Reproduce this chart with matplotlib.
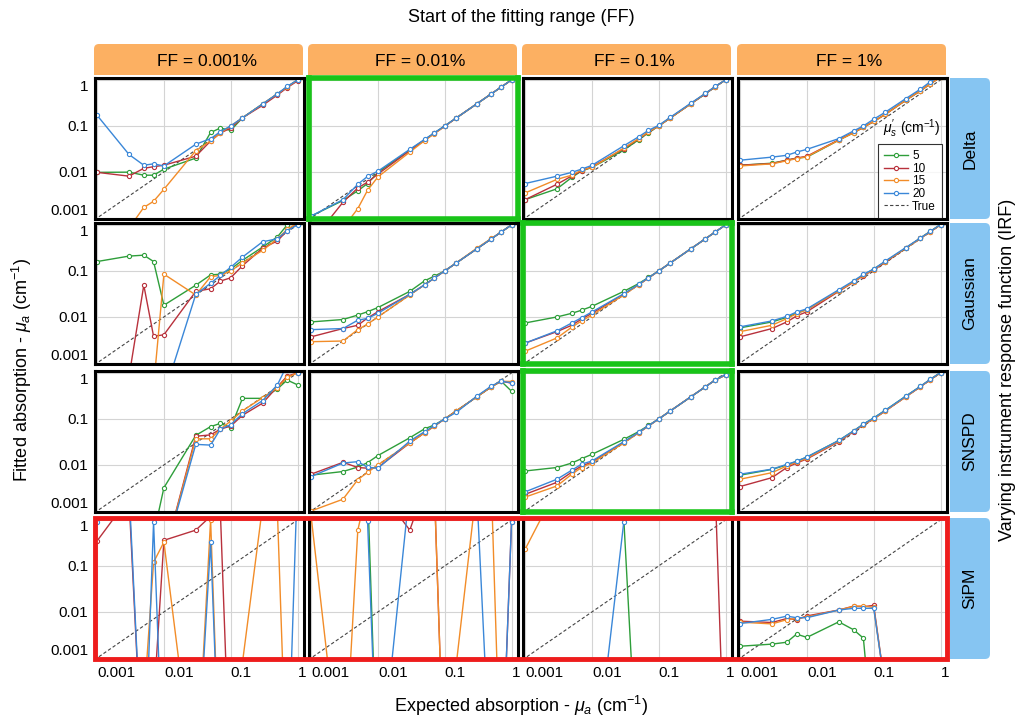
import matplotlib
matplotlib.use('Agg')
import matplotlib.pyplot as plt
from matplotlib.patches import FancyBboxPatch, Rectangle
from matplotlib.lines import Line2D
from matplotlib.ticker import NullLocator

plt.rcParams['font.family'] = ['Liberation Sans', 'DejaVu Sans']
plt.rcParams['mathtext.fontset'] = 'custom'
plt.rcParams['mathtext.rm'] = 'Liberation Sans'
plt.rcParams['mathtext.it'] = 'Liberation Sans:italic'

W, H = 1021, 719

# expected absorption (cm-1)
X = [0.001, 0.003, 0.005, 0.007, 0.01, 0.03, 0.05, 0.07, 0.1, 0.15, 0.3, 0.5, 0.7, 1.0]

ff_labels = ['FF = 0.001%', 'FF = 0.01%', 'FF = 0.1%', 'FF = 1%']
irf_labels = ['Delta', 'Gaussian', 'SNSPD', 'SiPM']
mus_labels = ['5', '10', '15', '20']
tick_vals = [0.001, 0.01, 0.1, 1]
tick_labels = ['0.001', '0.01', '0.1', '1']

# --- Delta IRF ---
d1_5 = [0.0098, 0.0099, 0.0085, 0.0085, 0.0115, 0.020, 0.072, 0.090, 0.080, 0.15, 0.30, 0.49, 0.70, 1.0]
d1_10 = [0.0098, 0.0081, 0.012, 0.013, 0.014, 0.022, 0.047, 0.070, 0.090, 0.15, 0.28, 0.47, 0.68, 0.95]
d1_15 = [0.0001, 0.0006, 0.0017, 0.0023, 0.0042, 0.029, 0.047, 0.070, 0.10, 0.15, 0.30, 0.50, 0.70, 1.0]
d1_20 = [0.17, 0.024, 0.014, 0.015, 0.0135, 0.040, 0.053, 0.075, 0.10, 0.15, 0.30, 0.50, 0.72, 1.0]

d2_5 = [0.0011, 0.0024, 0.0039, 0.0056, 0.0098, 0.030, 0.050, 0.070, 0.10, 0.15, 0.30, 0.50, 0.70, 1.0]
d2_10 = [0.0003, 0.0022, 0.0045, 0.006, 0.009, 0.029, 0.049, 0.069, 0.098, 0.15, 0.30, 0.50, 0.70, 1.0]
d2_15 = [0.0002, 0.0006, 0.0016, 0.004, 0.0078, 0.027, 0.048, 0.068, 0.098, 0.15, 0.30, 0.50, 0.70, 1.0]
d2_20 = [0.0011, 0.0025, 0.0054, 0.008, 0.0104, 0.031, 0.051, 0.071, 0.10, 0.15, 0.30, 0.50, 0.70, 1.0]

d3_5 = [0.0025, 0.0043, 0.0076, 0.0105, 0.0125, 0.030, 0.050, 0.071, 0.10, 0.15, 0.30, 0.50, 0.71, 1.0]
d3_10 = [0.0025, 0.0054, 0.0082, 0.0105, 0.013, 0.032, 0.052, 0.073, 0.10, 0.15, 0.30, 0.50, 0.71, 1.0]
d3_15 = [0.0035, 0.0069, 0.0085, 0.011, 0.0125, 0.033, 0.053, 0.074, 0.10, 0.15, 0.30, 0.51, 0.71, 1.0]
d3_20 = [0.0056, 0.0081, 0.0098, 0.0115, 0.0139, 0.037, 0.058, 0.080, 0.103, 0.155, 0.31, 0.51, 0.72, 1.0]

d4_5 = [0.014, 0.0155, 0.018, 0.020, 0.021, 0.049, 0.071, 0.093, 0.125, 0.18, 0.36, 0.58, 0.82, 1.15]
d4_10 = [0.014, 0.0152, 0.018, 0.020, 0.022, 0.050, 0.072, 0.094, 0.125, 0.18, 0.36, 0.58, 0.82, 1.15]
d4_15 = [0.0135, 0.015, 0.0175, 0.0195, 0.0215, 0.049, 0.071, 0.094, 0.125, 0.18, 0.36, 0.58, 0.82, 1.15]
d4_20 = [0.018, 0.021, 0.023, 0.027, 0.031, 0.053, 0.078, 0.10, 0.14, 0.20, 0.39, 0.63, 0.91, 1.2]

# --- Gaussian IRF ---
g1_5 = [0.16, 0.21, 0.22, 0.16, 0.018, 0.049, 0.082, 0.085, 0.11, 0.17, 0.33, 0.55, 1.0, 1.3]
g1_10 = [0.0001, 0.0005, 0.049, 0.0038, 0.0041, 0.036, 0.041, 0.06, 0.071, 0.13, 0.31, 0.45, 0.75, 1.05]
g1_15 = [0.0001, 0.0001, 0.0002, 0.0003, 0.085, 0.030, 0.075, 0.080, 0.10, 0.15, 0.28, 0.50, 0.80, 1.1]
g1_20 = [0.0001, 0.0001, 0.0001, 0.0002, 0.0002, 0.031, 0.054, 0.08, 0.12, 0.20, 0.43, 0.50, 0.75, 1.0]

g2_5 = [0.0078, 0.0088, 0.011, 0.013, 0.016, 0.036, 0.061, 0.077, 0.10, 0.15, 0.30, 0.50, 0.70, 1.0]
g2_10 = [0.0037, 0.0056, 0.0066, 0.0095, 0.013, 0.031, 0.050, 0.070, 0.10, 0.15, 0.30, 0.50, 0.70, 1.0]
g2_15 = [0.0029, 0.003, 0.0053, 0.007, 0.010, 0.030, 0.050, 0.070, 0.10, 0.15, 0.31, 0.51, 0.70, 1.0]
g2_20 = [0.0053, 0.0056, 0.0085, 0.0093, 0.012, 0.031, 0.050, 0.070, 0.10, 0.15, 0.30, 0.50, 0.70, 1.0]

g3_5 = [0.0074, 0.010, 0.012, 0.014, 0.017, 0.036, 0.053, 0.072, 0.10, 0.15, 0.30, 0.50, 0.70, 1.0]
g3_10 = [0.0027, 0.0048, 0.0066, 0.009, 0.012, 0.031, 0.050, 0.070, 0.10, 0.15, 0.30, 0.50, 0.70, 1.0]
g3_15 = [0.0018, 0.0035, 0.006, 0.0082, 0.011, 0.030, 0.050, 0.070, 0.10, 0.15, 0.30, 0.50, 0.70, 1.0]
g3_20 = [0.0027, 0.005, 0.0074, 0.0096, 0.0128, 0.032, 0.051, 0.071, 0.10, 0.15, 0.30, 0.50, 0.70, 1.0]

g4_5 = [0.0058, 0.0078, 0.0098, 0.012, 0.0145, 0.037, 0.059, 0.081, 0.11, 0.16, 0.31, 0.52, 0.72, 1.02]
g4_10 = [0.0037, 0.0056, 0.0078, 0.0105, 0.013, 0.036, 0.057, 0.079, 0.105, 0.155, 0.31, 0.51, 0.71, 1.0]
g4_15 = [0.0048, 0.0066, 0.0092, 0.0118, 0.0145, 0.037, 0.058, 0.080, 0.107, 0.16, 0.31, 0.51, 0.71, 1.0]
g4_20 = [0.0061, 0.0082, 0.0103, 0.0128, 0.015, 0.039, 0.061, 0.084, 0.11, 0.165, 0.32, 0.52, 0.72, 1.02]

# --- SNSPD IRF ---
s1_5 = [1e-5, 1e-5, 1e-5, 0.0003, 0.0032, 0.044, 0.068, 0.080, 0.065, 0.28, 0.28, 0.45, 0.70, 0.55]
s1_10 = [1e-5, 1e-5, 1e-5, 1e-5, 0.0001, 0.042, 0.045, 0.060, 0.070, 0.12, 0.22, 0.50, 0.85, 1.0]
s1_15 = [1e-5, 1e-5, 1e-5, 1e-5, 0.0001, 0.037, 0.037, 0.060, 0.090, 0.15, 0.29, 0.48, 0.80, 1.0]
s1_20 = [1e-5, 1e-5, 1e-5, 1e-5, 0.0001, 0.028, 0.027, 0.060, 0.075, 0.13, 0.25, 0.55, 1.5, 1.0]

s2_5 = [0.006, 0.0072, 0.009, 0.0112, 0.016, 0.039, 0.061, 0.074, 0.10, 0.15, 0.30, 0.50, 0.66, 0.40]
s2_10 = [0.0063, 0.0114, 0.0088, 0.0085, 0.0088, 0.030, 0.050, 0.070, 0.10, 0.15, 0.30, 0.50, 0.66, 0.60]
s2_15 = [0.001, 0.0018, 0.0048, 0.0069, 0.010, 0.030, 0.050, 0.070, 0.10, 0.15, 0.30, 0.50, 0.66, 0.65]
s2_20 = [0.0056, 0.011, 0.0118, 0.0089, 0.0085, 0.033, 0.053, 0.072, 0.10, 0.14, 0.31, 0.52, 0.66, 0.61]

s3_5 = [0.0074, 0.0088, 0.011, 0.0137, 0.017, 0.036, 0.053, 0.072, 0.10, 0.15, 0.30, 0.50, 0.70, 0.90]
s3_10 = [0.0023, 0.0042, 0.007, 0.0095, 0.0115, 0.031, 0.050, 0.070, 0.10, 0.15, 0.30, 0.50, 0.70, 0.90]
s3_15 = [0.002, 0.0035, 0.0063, 0.0088, 0.011, 0.030, 0.050, 0.070, 0.10, 0.15, 0.30, 0.50, 0.70, 0.90]
s3_20 = [0.0026, 0.0049, 0.0077, 0.0104, 0.0122, 0.032, 0.051, 0.071, 0.10, 0.15, 0.30, 0.50, 0.70, 0.92]

s4_5 = [0.006, 0.008, 0.010, 0.012, 0.0148, 0.034, 0.055, 0.077, 0.105, 0.155, 0.31, 0.51, 0.72, 1.02]
s4_10 = [0.0034, 0.0053, 0.0088, 0.011, 0.0135, 0.032, 0.053, 0.074, 0.10, 0.15, 0.30, 0.50, 0.71, 1.0]
s4_15 = [0.0049, 0.0068, 0.0095, 0.0115, 0.014, 0.033, 0.054, 0.075, 0.10, 0.15, 0.30, 0.50, 0.71, 1.0]
s4_20 = [0.0063, 0.0081, 0.0103, 0.012, 0.0149, 0.034, 0.055, 0.077, 0.105, 0.155, 0.31, 0.51, 0.72, 1.02]

# --- SiPM IRF (fits blow up, many values off the plotted range) ---
p1_5 = [5, 5, 5, 5, 5, 5, 5, 5, 5, 5, 5, 5, 5, 5]
p1_10 = [0.35, 3, 1e-6, 1e-4, 0.36, 0.6, 1.2, 1.5, 1e-6, 1e-6, 1e-6, 1e-6, 1e-6, 1e-6]
p1_15 = [1e-6, 1e-6, 1e-4, 0.12, 0.33, 1e-6, 1.0, 1e-6, 1e-6, 0.0008, 2, 1.5, 1e-6, 1e-6]
p1_20 = [0.9, 5, 1e-6, 0.9, 1e-6, 1e-6, 0.33, 1e-6, 1e-6, 1e-6, 1e-6, 1e-6, 1e-6, 10]

p2_5 = [5, 5, 5, 5, 1e-6, 1e-6, 1e-6, 1e-6, 1e-6, 1e-6, 1e-6, 1e-6, 1e-6, 1e-6]
p2_10 = [5, 5, 5, 5, 5, 0.6, 5, 5, 1e-6, 1e-6, 1e-6, 1e-6, 1e-6, 0.9]
p2_15 = [1.2, 1e-6, 0.6, 5, 5, 5, 5, 5, 1e-6, 0.0008, 5, 5, 1e-6, 1e-6]
p2_20 = [5, 5, 5, 0.95, 1e-6, 5, 5, 5, 5, 5, 5, 1e-6, 1e-6, 0.9]

p3_5 = [5, 5, 5, 5, 5, 1.05, 1e-6, 1e-6, 1e-6, 1e-6, 1e-6, 1e-6, 1e-6, 1e-6]
p3_10 = [5, 5, 5, 5, 5, 5, 5, 5, 5, 5, 5, 5, 5, 1e-6]
p3_15 = [0.23, 5, 5, 5, 5, 5, 5, 5, 5, 5, 5, 5, 5, 5]
p3_20 = [1e-6, 1e-6, 1e-6, 1e-6, 1e-6, 0.9, 5, 5, 5, 5, 5, 5, 5, 5]

p4_5 = [0.0018, 0.002, 0.0022, 0.0033, 0.0028, 0.0061, 0.0041, 0.0027, 1e-5, 1e-5, 1e-5, 1e-5, 1e-5, 1e-5]
p4_10 = [0.0063, 0.0059, 0.0072, 0.0068, 0.0082, 0.011, 0.0134, 0.013, 0.0139, 0.0002, 1e-5, 1e-5, 1e-5, 1e-5]
p4_15 = [0.006, 0.0055, 0.0068, 0.0072, 0.0078, 0.011, 0.0132, 0.0135, 0.0125, 0.0002, 1e-5, 1e-5, 1e-5, 1e-5]
p4_20 = [0.0056, 0.0069, 0.0081, 0.0075, 0.0075, 0.011, 0.012, 0.012, 0.012, 0.0002, 1e-5, 1e-5, 1e-5, 1e-5]

panels = [
    [(d1_5, d1_10, d1_15, d1_20), (d2_5, d2_10, d2_15, d2_20),
     (d3_5, d3_10, d3_15, d3_20), (d4_5, d4_10, d4_15, d4_20)],
    [(g1_5, g1_10, g1_15, g1_20), (g2_5, g2_10, g2_15, g2_20),
     (g3_5, g3_10, g3_15, g3_20), (g4_5, g4_10, g4_15, g4_20)],
    [(s1_5, s1_10, s1_15, s1_20), (s2_5, s2_10, s2_15, s2_20),
     (s3_5, s3_10, s3_15, s3_20), (s4_5, s4_10, s4_15, s4_20)],
    [(p1_5, p1_10, p1_15, p1_20), (p2_5, p2_10, p2_15, p2_20),
     (p3_5, p3_10, p3_15, p3_20), (p4_5, p4_10, p4_15, p4_20)],
]

colors = ['#2E9E3A', '#B8313C', '#F28C28', '#3A87D8']
green_panels = [(0, 1), (1, 2), (2, 2)]

col_left = [95, 309, 523, 738]
row_top = [78, 223, 371, 518]
pw, ph = 209, 141


def fig_rect(x0, y0, w, h):
    return [x0 / W, 1 - (y0 + h) / H, w / W, h / H]


fig = plt.figure(figsize=(W / 100, H / 100), dpi=100)

axes = {}
for i in range(4):
    for j in range(4):
        ax = fig.add_axes(fig_rect(col_left[j], row_top[i], pw, ph))
        axes[(i, j)] = ax
        ax.set_xscale('log')
        ax.set_yscale('log')
        ax.plot([0.0001, 10], [0.0001, 10], color='#444444', lw=0.8,
                ls=(0, (3, 2)), zorder=2)
        for vals, c in zip(panels[i][j], colors):
            ax.plot(X, vals, color=c, lw=1.0, marker='o', ms=3,
                    mfc='white', mew=0.8, zorder=3)
        ax.set_xlim(0.00093, 1.25)
        ax.set_ylim(0.00095, 1.1)
        ax.set_xticks(tick_vals)
        ax.set_yticks(tick_vals)
        ax.xaxis.set_minor_locator(NullLocator())
        ax.yaxis.set_minor_locator(NullLocator())
        ax.grid(True, color='#d4d4d4', lw=0.8, zorder=0)
        ax.set_axisbelow(True)
        ax.tick_params(length=0, labelsize=11, pad=5)
        if j == 0:
            ax.set_yticklabels(tick_labels)
            ylabs = ax.get_yticklabels()
            ylabs[0].set_va('bottom')
            ylabs[-1].set_va('top')
        else:
            ax.set_yticklabels([])
        if i == 3:
            ax.set_xticklabels(tick_labels)
            for lb in ax.get_xticklabels():
                lb.set_ha('left')
        else:
            ax.set_xticklabels([])
        if (i, j) in green_panels:
            ec, lw = '#19C419', 4.0
        else:
            ec, lw = 'black', 2.2
        for s in ax.spines.values():
            s.set_edgecolor(ec)
            s.set_linewidth(lw)
            s.set_zorder(5)

# legend in the Delta / FF = 1% panel
handles = [Line2D([], [], color=c, lw=1.0, marker='o', ms=3, mfc='white', mew=0.8)
           for c in colors]
handles.append(Line2D([], [], color='#444444', lw=0.8, ls=(0, (3, 2))))
leg_ax = axes[(0, 3)]
leg = leg_ax.legend(handles, mus_labels + ['True'], loc='upper left',
                    bbox_to_anchor=(0.67, 0.53), borderaxespad=0, fontsize=8.5,
                    frameon=True, fancybox=False, edgecolor='black',
                    handlelength=2.0, handletextpad=0.4, labelspacing=0.05,
                    borderpad=0.5)
leg.get_frame().set_linewidth(0.8)
leg.set_zorder(6)
leg_ax.text(0.83, 0.56, r"$\mu_s^{\prime}$ (cm$^{-1}$)", transform=leg_ax.transAxes,
            ha='center', va='bottom', fontsize=10, zorder=6)

# overlay in pixel coordinates for strips, frames and titles
ov = fig.add_axes([0, 0, 1, 1], zorder=10)
ov.set_xlim(0, W)
ov.set_ylim(H, 0)
ov.axis('off')

orange = '#FCB062'
blue = '#86C5F2'
for j in range(4):
    x0 = col_left[j] - 1
    ov.add_patch(FancyBboxPatch((x0, 44), pw, 31, boxstyle='round,pad=0,rounding_size=5',
                                fc=orange, ec='none'))
    ov.add_patch(Rectangle((x0, 60), pw, 15, fc=orange, ec='none'))
    ov.text(x0 + pw / 2 + 8, 61, ff_labels[j], ha='center', va='center', fontsize=12.5)

for i in range(4):
    y0 = row_top[i]
    ov.add_patch(FancyBboxPatch((950, y0), 40, ph, boxstyle='round,pad=0,rounding_size=5',
                                fc=blue, ec='none'))
    ov.add_patch(Rectangle((950, y0), 20, ph, fc=blue, ec='none'))
    ov.text(970, y0 + ph / 2, irf_labels[i], ha='center', va='center',
            rotation=90, fontsize=12.5)

# red frame around the SiPM row
ov.add_patch(Rectangle((col_left[0], row_top[3]), col_left[3] + pw - col_left[0], ph,
                       fill=False, ec='#EE1C1C', lw=3.5))

ov.text(521, 18, 'Start of the fitting range (FF)', ha='center', va='center', fontsize=13)
ov.text(521, 706, r'Expected absorption - $\mu_a$ (cm$^{-1}$)', ha='center',
        va='center', fontsize=13)
ov.text(22, 370, r'Fitted absorption - $\mu_a$ (cm$^{-1}$)', ha='center',
        va='center', rotation=90, fontsize=13)
ov.text(1007, 370, 'Varying instrument response function (IRF)', ha='center',
        va='center', rotation=90, fontsize=13)

fig.savefig('out.png', dpi=100)
